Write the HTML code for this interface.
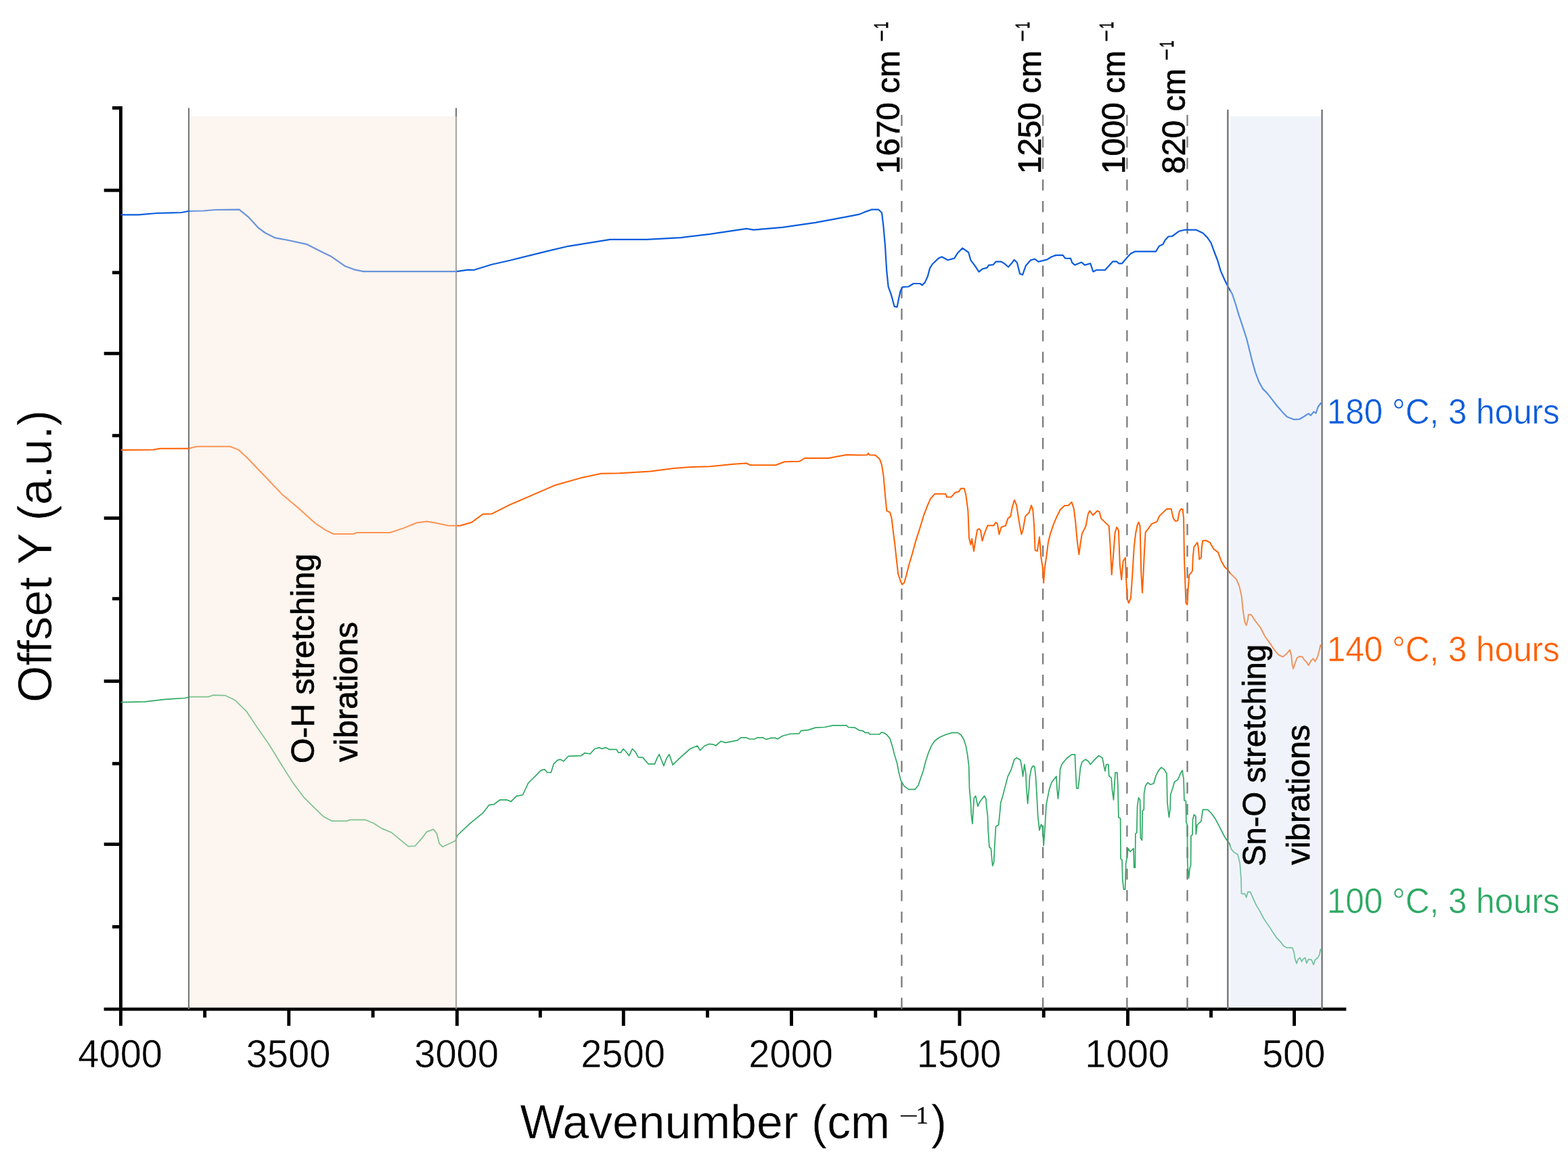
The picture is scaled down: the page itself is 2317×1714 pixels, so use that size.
<!DOCTYPE html>
<html lang="en"><head><meta charset="utf-8"><title>FTIR spectra</title>
<style>html,body{margin:0;padding:0;background:#fff}body{width:2317px;height:1714px;overflow:hidden}svg{display:block}text{font-family:"Liberation Sans",sans-serif;font-variant-ligatures:none}.ser{font-family:"Liberation Serif",serif}.cal{stroke:#000;stroke-width:0.7px}.thin{stroke:#fff;stroke-width:0.5px}</style>
</head><body>
<svg width="2317" height="1714" viewBox="0 0 2317 1714">
<rect width="2317" height="1714" fill="#fff"/>
<g id="axes" stroke="#000" stroke-width="4.9" fill="none">
<line x1="178.45" y1="157.05" x2="178.45" y2="1515.8"/>
<line x1="153.6" y1="1491.15" x2="1989.3" y2="1491.15"/>
<line x1="426.80" y1="1491.15" x2="426.80" y2="1515.8"/>
<line x1="675.35" y1="1491.15" x2="675.35" y2="1515.8"/>
<line x1="921.30" y1="1491.15" x2="921.30" y2="1515.8"/>
<line x1="1169.50" y1="1491.15" x2="1169.50" y2="1515.8"/>
<line x1="1417.96" y1="1491.15" x2="1417.96" y2="1515.8"/>
<line x1="1666.50" y1="1491.15" x2="1666.50" y2="1515.8"/>
<line x1="1912.50" y1="1491.15" x2="1912.50" y2="1515.8"/>
<line x1="302.62" y1="1491.15" x2="302.62" y2="1503.5"/>
<line x1="551.08" y1="1491.15" x2="551.08" y2="1503.5"/>
<line x1="798.33" y1="1491.15" x2="798.33" y2="1503.5"/>
<line x1="1045.40" y1="1491.15" x2="1045.40" y2="1503.5"/>
<line x1="1293.73" y1="1491.15" x2="1293.73" y2="1503.5"/>
<line x1="1542.23" y1="1491.15" x2="1542.23" y2="1503.5"/>
<line x1="1789.50" y1="1491.15" x2="1789.50" y2="1503.5"/>
<line x1="165.9" y1="159.50" x2="178.45" y2="159.50"/>
<line x1="153.7" y1="281.20" x2="178.45" y2="281.20"/>
<line x1="165.9" y1="402.80" x2="178.45" y2="402.80"/>
<line x1="153.7" y1="522.30" x2="178.45" y2="522.30"/>
<line x1="165.9" y1="643.65" x2="178.45" y2="643.65"/>
<line x1="153.7" y1="765.60" x2="178.45" y2="765.60"/>
<line x1="165.9" y1="884.65" x2="178.45" y2="884.65"/>
<line x1="153.7" y1="1006.50" x2="178.45" y2="1006.50"/>
<line x1="165.9" y1="1128.30" x2="178.45" y2="1128.30"/>
<line x1="153.7" y1="1247.45" x2="178.45" y2="1247.45"/>
<line x1="165.9" y1="1369.40" x2="178.45" y2="1369.40"/>
</g>
<g id="vlinesL" stroke="#747474" stroke-width="2">
<line x1="279.0" y1="159.4" x2="279.0" y2="1491.2"/>
<line x1="674.0" y1="159.4" x2="674.0" y2="1491.2"/>
</g>
<g id="dashes" stroke="#7b7b7b" stroke-width="2.3" stroke-dasharray="16.4 15.42">
<line x1="1332.4" y1="169.7" x2="1332.4" y2="1491.2"/>
<line x1="1541.1" y1="169.7" x2="1541.1" y2="1491.2"/>
<line x1="1665.4" y1="169.7" x2="1665.4" y2="1491.2"/>
<line x1="1754.5" y1="169.7" x2="1754.5" y2="1491.2"/>
</g>
<g id="curves">
<polyline points="178.6,317.4 204.5,317.4 231.6,315.0 268.5,314.0 278.4,312.0 300.5,311.5 317.8,310.0 353.5,309.6 367.0,320.6 381.8,336.7 391.7,344.0 406.5,351.4 426.0,355.0 453.0,360.8 473.0,371.0 490.0,379.3 510.0,393.3 524.7,398.7 537.0,401.2 675.0,401.2 692.0,398.7 700.0,399.0 726.9,390.7 753.7,384.8 807.5,371.4 839.7,363.8 880.0,357.4 901.5,353.9 955.3,353.9 1006.3,351.2 1049.3,345.8 1103.0,337.8 1113.8,339.7 1156.8,335.9 1205.1,328.9 1250.8,320.3 1270.0,316.6 1279.7,312.6 1287.7,309.7 1298.2,309.7 1303.0,314.2 1305.5,335.1 1307.9,362.5 1310.3,401.2 1312.7,423.8 1316.8,435.1 1321.6,452.8 1325.6,453.6 1328.0,441.5 1330.5,430.3 1333.7,424.1 1342.5,423.5 1349.8,419.0 1359.5,419.0 1362.7,421.4 1366.7,417.4 1370.8,408.5 1374.0,396.4 1378.0,390.0 1386.9,381.6 1391.7,379.5 1400.6,384.3 1410.3,381.6 1415.1,373.8 1422.3,366.6 1431.2,373.0 1434.4,384.3 1440.9,393.2 1446.5,401.6 1452.2,397.2 1458.6,395.6 1461.0,391.9 1467.5,391.2 1471.5,386.7 1479.6,386.7 1484.4,389.6 1490.0,394.5 1494.9,389.1 1498.6,383.8 1503.0,388.3 1507.0,404.5 1511.0,406.1 1515.9,392.4 1523.1,384.3 1528.8,382.7 1534.4,386.7 1540.8,385.1 1547.3,383.5 1553.7,379.5 1560.2,377.1 1570.7,377.1 1573.9,381.6 1582.0,381.9 1584.4,388.3 1588.4,391.6 1598.1,387.5 1602.9,391.6 1611.3,389.3 1615.3,401.4 1620.2,399.0 1633.0,399.0 1644.3,386.4 1650.0,386.4 1653.2,389.3 1658.0,389.3 1666.1,379.7 1670.9,374.8 1677.4,371.6 1708.0,371.6 1712.9,363.5 1718.5,361.1 1721.7,354.7 1726.6,349.5 1732.2,349.0 1741.9,341.8 1749.9,339.7 1767.7,339.7 1777.3,344.2 1783.8,350.6 1789.4,358.7 1793.5,370.0 1799.1,384.5 1803.9,400.6 1809.6,413.5 1814.4,423.2 1820.9,434.5 1825.7,449.0 1830.5,465.1 1835.4,479.6 1842.1,500.5 1846.5,517.9 1850.8,535.4 1855.2,550.6 1860.6,564.8 1866.1,574.6 1872.6,581.1 1880.2,590.9 1887.9,600.7 1895.5,609.4 1902.0,616.0 1911.8,619.8 1920.5,619.3 1926.0,616.0 1933.6,611.1 1936.9,613.8 1941.2,608.4 1944.5,610.5 1947.8,600.7 1952.1,595.3" fill="none" stroke="#0a5cdc" stroke-width="2.2" stroke-linejoin="round"/>
<polyline points="178.6,665.1 226.7,664.6 236.5,662.7 278.4,662.7 290.7,659.7 340.0,659.7 352.3,664.6 364.6,675.7 391.7,704.0 416.3,729.9 441.0,750.8 465.6,773.0 480.4,782.9 492.7,789.0 522.2,789.0 527.1,787.0 576.4,787.0 596.1,780.4 615.8,772.5 630.6,770.5 645.4,773.0 662.6,776.7 679.9,776.7 697.1,771.8 713.4,759.7 726.9,759.2 753.7,745.7 780.6,734.2 820.9,716.7 861.2,705.4 888.1,699.8 915.0,699.3 960.6,696.6 995.6,692.0 1022.4,689.9 1049.3,689.3 1084.2,685.8 1103.0,684.5 1108.4,687.2 1146.0,687.2 1159.5,682.3 1181.0,681.8 1189.0,677.0 1224.0,677.0 1250.8,671.9 1270.0,672.6 1281.3,672.2 1282.9,669.7 1284.5,672.2 1293.4,672.6 1299.8,678.2 1303.0,687.1 1305.5,703.2 1307.9,730.6 1310.3,754.8 1315.1,757.2 1317.6,766.1 1320.3,788.6 1322.4,804.8 1324.8,827.3 1327.2,848.3 1330.5,858.0 1332.9,863.6 1336.1,861.2 1339.3,849.9 1343.4,833.8 1348.2,817.7 1353.0,799.9 1358.7,782.2 1365.1,761.2 1370.0,748.3 1374.8,737.1 1381.2,729.8 1397.4,729.8 1399.0,734.6 1405.4,734.6 1411.9,727.4 1416.7,726.6 1419.9,721.7 1424.8,721.7 1427.2,730.6 1430.4,754.8 1432.0,795.1 1434.4,804.8 1436.1,795.9 1439.0,814.4 1441.7,796.7 1444.1,783.0 1446.5,781.4 1449.0,783.8 1451.4,799.1 1454.6,788.6 1459.4,776.6 1468.3,776.6 1471.5,771.7 1473.9,774.1 1476.4,789.5 1479.6,779.0 1486.0,776.6 1489.3,766.1 1493.3,762.9 1495.7,750.0 1498.9,739.0 1502.2,746.7 1504.6,762.9 1507.0,777.4 1509.4,789.5 1511.8,782.2 1515.1,762.9 1520.7,757.2 1523.9,746.7 1526.3,753.2 1528.0,775.8 1529.6,812.8 1532.8,814.4 1536.0,793.5 1538.4,824.1 1540.8,838.6 1542.1,861.2 1544.1,837.0 1546.5,820.9 1548.9,801.5 1552.1,788.6 1557.0,774.1 1561.8,762.9 1566.6,753.2 1573.1,747.1 1578.7,746.7 1583.6,741.9 1586.8,751.6 1589.2,770.9 1591.6,797.5 1594.4,819.3 1596.5,803.2 1598.9,788.6 1604.5,777.4 1607.8,759.6 1610.2,754.8 1615.0,761.2 1621.5,754.8 1624.7,756.4 1627.1,766.1 1638.7,777.4 1640.6,806.4 1642.7,849.1 1645.1,820.9 1647.6,787.1 1650.3,779.0 1652.9,783.8 1654.8,833.8 1657.2,856.4 1659.7,829.0 1662.9,824.1 1664.2,857.2 1666.1,885.4 1667.7,891.0 1670.9,883.8 1673.4,848.3 1675.8,808.0 1678.2,787.9 1680.6,775.8 1682.5,771.7 1684.6,777.4 1686.3,846.7 1687.9,875.7 1689.5,848.3 1691.1,812.9 1692.7,786.3 1696.7,781.4 1701.6,774.2 1709.6,770.9 1712.9,762.9 1724.1,751.9 1730.6,751.9 1733.8,766.1 1737.0,770.1 1740.3,769.3 1742.7,756.4 1745.1,751.9 1747.5,752.4 1749.1,766.1 1749.9,822.5 1752.4,891.0 1754.4,893.5 1755.6,870.9 1757.2,849.9 1762.0,843.5 1762.8,822.5 1764.4,808.0 1769.3,801.6 1770.9,809.6 1772.2,826.6 1774.9,824.1 1775.7,809.6 1777.3,798.7 1782.2,798.7 1787.8,801.6 1793.5,811.2 1799.9,816.1 1804.7,829.0 1809.6,837.8 1814.4,841.9 1817.6,846.7 1827.3,856.4 1831.3,866.1 1834.6,880.6 1836.7,901.5 1839.4,919.4 1841.6,923.9 1843.9,915.8 1844.8,908.2 1848.8,908.2 1853.7,915.8 1862.7,927.5 1869.0,940.0 1876.1,949.9 1883.3,960.6 1889.6,967.8 1895.8,970.5 1901.2,966.0 1906.1,960.2 1908.4,969.6 1909.3,981.2 1911.1,987.9 1913.7,980.3 1916.4,972.3 1920.0,970.0 1924.5,970.5 1927.2,974.9 1930.8,978.5 1933.5,983.0 1937.0,976.7 1940.6,973.1 1943.3,977.6 1946.9,970.5 1949.6,960.6 1951.4,952.5" fill="none" stroke="#fe6000" stroke-width="2.0" stroke-linejoin="round"/>
<polyline points="178.6,1037.7 214.3,1036.9 243.9,1033.3 273.4,1031.5 280.8,1029.6 307.9,1029.6 315.3,1027.1 332.6,1027.6 347.3,1034.5 364.6,1051.7 379.4,1073.9 396.6,1098.5 416.3,1130.5 433.5,1157.6 448.3,1177.3 465.6,1194.6 477.9,1206.4 490.2,1213.1 512.4,1213.1 517.3,1211.3 539.5,1211.3 551.8,1216.3 564.1,1224.1 578.9,1230.3 593.6,1242.6 603.5,1250.7 613.3,1250.0 623.2,1238.9 630.6,1229.1 640.4,1225.4 645.4,1231.5 649.1,1246.3 654.0,1251.2 672.5,1242.6 676.2,1234.0 694.6,1216.7 713.4,1201.4 722.8,1189.3 729.6,1188.7 739.0,1181.8 748.4,1181.8 755.1,1184.4 763.1,1176.4 772.5,1174.5 780.6,1157.0 791.4,1146.3 799.4,1138.2 804.8,1136.9 808.8,1141.5 814.2,1141.5 818.2,1128.8 823.6,1123.4 827.6,1122.1 833.0,1124.8 839.7,1117.3 858.5,1116.7 863.9,1112.7 872.0,1114.0 878.7,1106.5 885.4,1104.6 889.4,1106.5 894.8,1104.6 900.2,1107.3 910.9,1107.3 913.6,1111.9 917.6,1111.9 920.9,1106.5 924.4,1110.0 929.7,1116.7 934.3,1106.5 939.1,1111.4 943.2,1118.9 949.9,1119.4 957.9,1128.8 967.4,1128.8 971.4,1119.4 974.1,1114.6 978.1,1124.8 980.8,1131.5 984.8,1120.8 988.8,1114.6 991.5,1122.1 994.2,1130.2 1003.6,1120.8 1019.7,1106.5 1030.5,1102.0 1034.5,1108.7 1041.2,1102.0 1048.0,1099.3 1054.7,1100.1 1057.4,1102.0 1065.4,1095.2 1072.1,1097.4 1089.6,1093.9 1095.0,1089.9 1103.0,1089.9 1107.1,1092.0 1115.1,1092.0 1119.2,1089.9 1127.2,1089.9 1132.6,1092.5 1139.3,1090.4 1146.0,1090.4 1148.7,1092.0 1156.8,1087.2 1167.5,1084.5 1181.0,1083.9 1183.7,1079.6 1194.4,1078.6 1205.1,1075.1 1218.6,1074.5 1230.7,1071.9 1250.8,1071.9 1253.5,1074.5 1262.9,1075.1 1269.6,1079.1 1275.6,1080.2 1278.1,1082.6 1283.7,1082.6 1285.3,1085.0 1299.8,1085.0 1302.2,1082.2 1305.5,1082.6 1310.3,1085.5 1315.1,1091.4 1318.4,1101.9 1321.6,1114.8 1325.6,1127.7 1328.0,1140.6 1331.3,1153.5 1336.1,1161.6 1342.5,1166.4 1352.2,1166.4 1357.1,1160.0 1360.3,1150.3 1364.3,1139.0 1367.5,1126.1 1371.6,1113.2 1376.4,1101.9 1381.2,1094.7 1387.7,1089.8 1397.4,1085.5 1407.0,1082.6 1415.1,1082.6 1419.9,1085.8 1424.0,1092.2 1427.2,1101.9 1429.6,1114.8 1431.7,1132.5 1432.5,1164.8 1434.4,1185.8 1435.3,1203.5 1436.9,1217.2 1438.0,1198.6 1439.3,1179.3 1441.7,1176.1 1444.9,1191.4 1447.3,1185.8 1451.4,1180.1 1454.6,1176.1 1457.0,1180.1 1457.8,1192.2 1459.4,1205.1 1460.2,1226.9 1461.9,1251.8 1464.3,1253.5 1465.9,1271.2 1466.7,1279.3 1468.6,1274.4 1469.9,1247.8 1471.5,1221.2 1475.6,1218.8 1477.2,1203.5 1478.8,1185.8 1482.0,1175.3 1484.4,1165.6 1489.3,1147.1 1494.1,1137.4 1498.9,1122.1 1502.2,1119.7 1507.8,1122.9 1510.2,1135.8 1511.5,1147.1 1513.8,1129.3 1515.9,1143.8 1516.7,1163.2 1518.6,1187.4 1520.7,1163.2 1521.5,1148.7 1523.9,1135.8 1526.3,1131.7 1528.8,1132.5 1530.4,1147.1 1532.0,1172.9 1533.6,1205.1 1536.0,1226.9 1538.4,1218.0 1540.8,1222.8 1542.1,1249.4 1544.1,1222.8 1546.0,1189.0 1550.5,1166.4 1553.7,1156.7 1557.0,1151.9 1561.0,1147.1 1561.8,1163.2 1563.4,1180.1 1565.0,1164.8 1566.6,1136.6 1569.1,1129.3 1576.3,1120.5 1583.6,1114.8 1588.4,1114.8 1589.2,1134.2 1590.8,1164.8 1593.2,1164.8 1594.9,1150.3 1596.5,1134.2 1598.9,1126.1 1603.7,1122.1 1607.8,1124.5 1611.3,1129.5 1616.1,1123.9 1623.4,1116.6 1629.0,1119.8 1631.4,1132.7 1633.0,1139.2 1634.7,1129.5 1637.9,1129.5 1638.7,1146.4 1642.2,1149.7 1643.5,1167.4 1645.5,1181.9 1646.8,1160.9 1648.0,1141.6 1650.8,1141.6 1651.9,1160.9 1652.9,1207.7 1655.6,1209.3 1656.1,1269.0 1658.0,1270.6 1658.8,1299.6 1660.5,1314.1 1662.6,1314.1 1663.7,1275.4 1665.3,1267.3 1666.9,1253.6 1670.1,1258.5 1675.0,1253.6 1675.8,1281.9 1677.4,1281.9 1677.9,1231.9 1679.8,1230.3 1680.6,1191.6 1682.5,1178.7 1684.6,1181.9 1685.4,1238.3 1687.5,1241.5 1688.3,1198.0 1690.3,1196.4 1690.6,1172.2 1692.7,1160.9 1695.9,1156.4 1700.0,1159.3 1704.8,1157.7 1708.0,1146.4 1712.0,1138.4 1716.1,1133.9 1720.1,1136.8 1724.1,1143.2 1724.9,1185.1 1727.4,1207.7 1729.0,1196.4 1729.8,1173.8 1733.0,1164.2 1735.4,1155.3 1740.3,1152.1 1744.3,1143.2 1747.0,1138.4 1749.1,1151.3 1749.9,1182.7 1752.4,1183.5 1752.8,1214.9 1754.4,1219.0 1754.8,1277.0 1756.7,1297.2 1758.0,1283.5 1759.6,1278.6 1759.9,1235.1 1762.0,1233.5 1762.5,1210.9 1764.4,1203.7 1766.9,1206.1 1767.3,1232.7 1769.0,1219.0 1774.9,1213.3 1776.5,1202.9 1777.3,1196.4 1784.6,1196.4 1790.2,1202.0 1795.9,1210.1 1801.5,1220.6 1808.0,1233.5 1812.8,1241.5 1816.8,1246.4 1819.3,1254.4 1823.3,1259.3 1828.9,1262.5 1832.2,1275.4 1834.0,1300.0 1834.5,1320.6 1839.4,1320.6 1841.6,1326.0 1843.9,1317.9 1847.5,1317.9 1851.5,1326.9 1856.4,1337.6 1861.8,1346.6 1866.3,1355.5 1871.7,1363.6 1876.1,1369.9 1881.1,1377.9 1886.0,1385.1 1893.1,1392.7 1896.7,1397.6 1901.2,1400.3 1909.7,1400.3 1912.0,1406.6 1913.7,1417.3 1916.0,1423.6 1918.2,1417.3 1920.9,1415.1 1923.6,1420.9 1925.4,1417.3 1928.5,1415.1 1930.8,1423.2 1933.5,1417.3 1937.9,1418.2 1941.1,1425.4 1943.3,1418.2 1946.9,1415.5 1949.6,1411.1 1951.4,1402.1" fill="none" stroke="#2da963" stroke-width="1.7" stroke-linejoin="round"/>
</g>
<rect x="280.1" y="172" width="395.0" height="1316.9" fill="#fbe5d6" fill-opacity="0.4"/>
<rect x="1818" y="172" width="133.6" height="1316.9" fill="#dae3f3" fill-opacity="0.4"/>
<g id="vlinesR" stroke="#7d7d7d" stroke-width="2.6">
<line x1="1814.3" y1="162.1" x2="1814.3" y2="1491.2"/>
<line x1="1953.5" y1="162.1" x2="1953.5" y2="1491.2"/>
</g>
<g id="xticks" class="thin">
<text transform="translate(177.65,1577.00) scale(0.9750,1)" font-size="57.5" fill="#000" text-anchor="middle">4000</text>
<text transform="translate(426.00,1577.00) scale(0.9750,1)" font-size="57.5" fill="#000" text-anchor="middle">3500</text>
<text transform="translate(674.55,1577.00) scale(0.9750,1)" font-size="57.5" fill="#000" text-anchor="middle">3000</text>
<text transform="translate(920.50,1577.00) scale(0.9750,1)" font-size="57.5" fill="#000" text-anchor="middle">2500</text>
<text transform="translate(1168.70,1577.00) scale(0.9750,1)" font-size="57.5" fill="#000" text-anchor="middle">2000</text>
<text transform="translate(1417.16,1577.00) scale(0.9750,1)" font-size="57.5" fill="#000" text-anchor="middle">1500</text>
<text transform="translate(1665.70,1577.00) scale(0.9750,1)" font-size="57.5" fill="#000" text-anchor="middle">1000</text>
<text transform="translate(1911.70,1577.00) scale(0.9750,1)" font-size="57.5" fill="#000" text-anchor="middle">500</text>
</g>
<g id="titles" class="thin">
<text transform="translate(768.5,1681.6)" font-size="69.6" fill="#000">Wavenumber (cm <tspan class="ser" stroke="none" font-size="36.7" x="559.8" y="-21" textLength="29" lengthAdjust="spacingAndGlyphs">−</tspan><tspan class="ser" stroke="#000" stroke-width="0.3" font-size="36.7" x="585" y="-21.6">1</tspan><tspan x="607.3" y="0">)</tspan></text>
<text transform="translate(76.20,822.00) rotate(-90)" font-size="70" fill="#000" text-anchor="middle">Offset Y (a.u.)</text>
</g>
<g id="rlabels" class="thin">
<text transform="translate(1960.80,626.00) scale(0.9600,1)" font-size="51.5" fill="#0a5cdc" text-anchor="start">180 °C, 3 hours</text>
<text transform="translate(1960.80,977.00) scale(0.9600,1)" font-size="51.5" fill="#fe6000" text-anchor="start">140 °C, 3 hours</text>
<text transform="translate(1960.80,1349.00) scale(0.9600,1)" font-size="51.5" fill="#2da963" text-anchor="start">100 °C, 3 hours</text>
</g>
<g id="toplabels">
<text transform="translate(1329.00,257) rotate(-90) scale(0.98,1)" font-size="48.5" fill="#000" class="cal">1670 cm <tspan font-size="30" x="199.5" y="-16.3">−</tspan><tspan font-size="29" stroke-width="0.9" x="219.1" y="-17" textLength="10" lengthAdjust="spacingAndGlyphs">1</tspan></text>
<text transform="translate(1537.50,257) rotate(-90) scale(0.98,1)" font-size="48.5" fill="#000" class="cal">1250 cm <tspan font-size="30" x="199.5" y="-16.3">−</tspan><tspan font-size="29" stroke-width="0.9" x="219.1" y="-17" textLength="10" lengthAdjust="spacingAndGlyphs">1</tspan></text>
<text transform="translate(1661.50,257) rotate(-90) scale(0.98,1)" font-size="48.5" fill="#000" class="cal">1000 cm <tspan font-size="30" x="199.5" y="-16.3">−</tspan><tspan font-size="29" stroke-width="0.9" x="219.1" y="-17" textLength="10" lengthAdjust="spacingAndGlyphs">1</tspan></text>
<text transform="translate(1750.50,257) rotate(-90) scale(0.98,1)" font-size="48.5" fill="#000" class="cal">820 cm <tspan font-size="30" x="171.3" y="-16.3">−</tspan><tspan font-size="29" stroke-width="0.9" x="190.9" y="-17" textLength="10" lengthAdjust="spacingAndGlyphs">1</tspan></text>
</g>
<g id="shadelabels" class="cal">
<text transform="translate(463.60,1128.00) rotate(-90) scale(1.0130,1)" font-size="47.5" fill="#000" text-anchor="start">O-H stretching</text>
<text transform="translate(528.20,1126.00) rotate(-90) scale(1.0200,1)" font-size="47.5" fill="#000" text-anchor="start">vibrations</text>
<text transform="translate(1870.00,1280.00) rotate(-90) scale(0.9940,1)" font-size="47.5" fill="#000" text-anchor="start">Sn-O stretching</text>
<text transform="translate(1934.50,1278.00) rotate(-90) scale(1.0200,1)" font-size="47.5" fill="#000" text-anchor="start">vibrations</text>
</g>
</svg></body></html>
